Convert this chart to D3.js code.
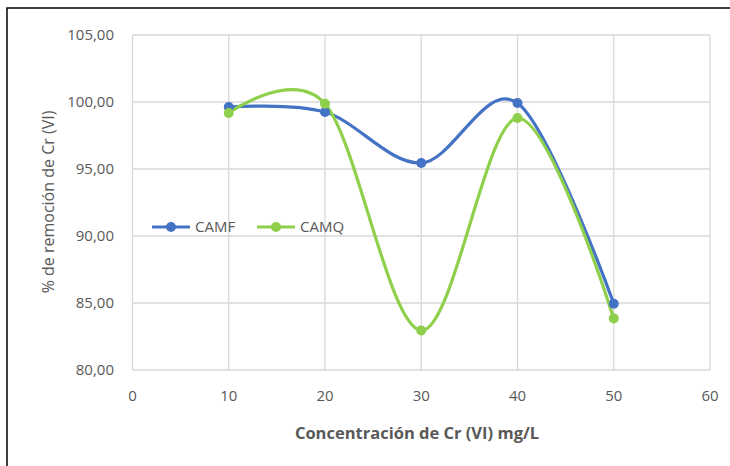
<!DOCTYPE html>
<html><head><meta charset="utf-8">
<script src="https://cdn.jsdelivr.net/npm/d3@7"></script>
<style>body{margin:0;background:#fff;}svg{display:block;font-family:"Open Sans",sans-serif;}</style>
</head><body>
<script>
const concentrations = [10, 20, 30, 40, 50];
const camf = [99.62, 99.25, 95.45, 99.92, 84.95];
const camq = [99.18, 99.87, 82.95, 98.80, 83.85];
const seriesNames = ["CAMF", "CAMQ"];
const seriesColors = ["#4472C4", "#8ED04B"];
const xTicks = [0, 10, 20, 30, 40, 50, 60];
const yTicks = [80, 85, 90, 95, 100, 105];

const W = 730, H = 466;
const svg = d3.select("body").append("svg").attr("width", W).attr("height", H);
svg.append("rect").attr("x", 7).attr("y", 8).attr("width", 740).attr("height", 480)
  .attr("fill", "#fff").attr("stroke", "#000").attr("stroke-width", 1.5);

const x = d3.scaleLinear().domain([0, 60]).range([132.5, 710]);
const y = d3.scaleLinear().domain([80, 105]).range([370, 35]);
const grid = "#D9D9D9";

svg.append("g").selectAll("line").data(xTicks).join("line")
  .attr("x1", d => x(d)).attr("x2", d => x(d)).attr("y1", y(105)).attr("y2", y(80))
  .attr("stroke", grid).attr("stroke-width", 1.3);
svg.append("g").selectAll("line").data(yTicks).join("line")
  .attr("x1", x(0)).attr("x2", x(60)).attr("y1", d => y(d)).attr("y2", d => y(d))
  .attr("stroke", grid).attr("stroke-width", 1.3);

const fmt = d => d3.format(".2f")(d).replace(".", ",");
svg.append("g").selectAll("text").data(yTicks).join("text")
  .attr("x", 114).attr("y", d => y(d)).attr("dy", "0.35em").attr("text-anchor", "end")
  .attr("fill", "#595959").attr("font-size", 15).text(fmt);
svg.append("g").selectAll("text").data(xTicks).join("text")
  .attr("x", d => x(d)).attr("y", 396).attr("dy", "0.35em").attr("text-anchor", "middle")
  .attr("fill", "#595959").attr("font-size", 15).text(d => d);

svg.append("text").attr("x", 417).attr("y", 433).attr("dy", "0.35em").attr("text-anchor", "middle")
  .attr("fill", "#595959").attr("font-size", 16.5).attr("font-weight", "bold")
  .text("Concentración de Cr (VI) mg/L");
svg.append("text").attr("transform", "translate(48,202) rotate(-90)").attr("dy", "0.35em")
  .attr("text-anchor", "middle").attr("fill", "#595959").attr("font-size", 16)
  .text("% de remoción de Cr (VI)");

const line = d3.line().x(d => x(d[0])).y(d => y(d[1])).curve(d3.curveCatmullRom.alpha(0));
const series = [camf, camq];
series.forEach((vals, i) => {
  const pts = concentrations.map((c, j) => [c, vals[j]]);
  svg.append("path").datum(pts).attr("d", line).attr("fill", "none")
    .attr("stroke", seriesColors[i]).attr("stroke-width", 3.2).attr("stroke-linecap", "round");
});
series.forEach((vals, i) => {
  svg.append("g").selectAll("circle").data(concentrations.map((c, j) => [c, vals[j]])).join("circle")
    .attr("cx", d => x(d[0])).attr("cy", d => y(d[1])).attr("r", 5).attr("fill", seriesColors[i]);
});

const legX = [152, 257];
seriesNames.forEach((n, i) => {
  const g = svg.append("g");
  g.append("line").attr("x1", legX[i]).attr("x2", legX[i] + 38).attr("y1", 227).attr("y2", 227)
    .attr("stroke", seriesColors[i]).attr("stroke-width", 3.2);
  g.append("circle").attr("cx", legX[i] + 19).attr("cy", 227).attr("r", 5).attr("fill", seriesColors[i]);
  g.append("text").attr("x", legX[i] + 43).attr("y", 227).attr("dy", "0.35em")
    .attr("fill", "#595959").attr("font-size", 15).text(n);
});
</script>
</body></html>
